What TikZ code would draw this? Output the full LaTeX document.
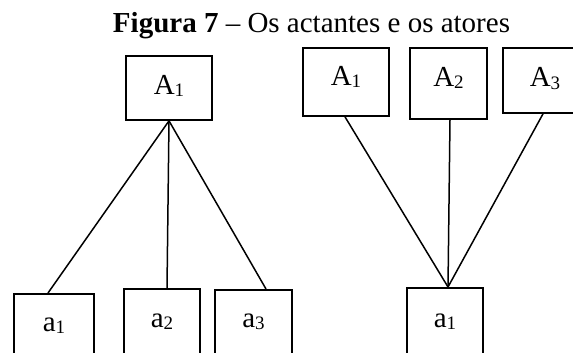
\documentclass[tikz,border=0pt]{standalone}
\usepackage{fontspec}
\setmainfont{Liberation Serif}
\newcommand\sbs[1]{\raisebox{-2pt}{\fontsize{19}{19}\selectfont #1}}
\begin{document}
\begin{tikzpicture}[x=1pt,y=-1pt,
  font=\fontsize{29}{34}\selectfont,
  box/.style={draw,line width=1.7pt,rectangle,inner sep=0pt,text height=20pt},
  link/.style={line width=1.5pt}]
\useasboundingbox (0,0) rectangle (573,353);
\clip (0,0) rectangle (573,353);
% title
\node[anchor=base,inner sep=0pt] (title) at (311.5,33) {\textbf{Figura 7} – Os actantes e os atores};
% left tree
\node[box,minimum width=86pt,minimum height=64pt,text depth=8pt] (lA1) at (169,88) {A\sbs{1}};
\node[box,anchor=north,minimum width=80pt,minimum height=80pt,text depth=24pt] (la1) at (54,293) {a\sbs{1}};
\node[box,anchor=north,minimum width=76pt,minimum height=80pt,text depth=22pt] (la2) at (162,288) {a\sbs{2}};
\node[box,anchor=north,minimum width=77pt,minimum height=80pt,text depth=24pt] (la3) at (253.5,289) {a\sbs{3}};
\draw[link] (lA1.south) -- ([xshift=-6pt]la1.north);
\draw[link] (lA1.south) -- ([xshift=5pt]la2.north);
\draw[link] (lA1.south) -- ([xshift=12.5pt]la3.north);
% right tree
\node[box,minimum width=86pt,minimum height=68pt,text depth=13pt] (rA1) at (346,82) {A\sbs{1}};
\node[box,minimum width=77pt,minimum height=71pt,text depth=15pt] (rA2) at (448.5,83.5) {A\sbs{2}};
\node[box,minimum width=84pt,minimum height=65pt,text depth=7pt] (rA3) at (545,80.5) {A\sbs{3}};
\node[box,anchor=north,minimum width=76pt,minimum height=80pt,text depth=20pt] (ra1) at (445,287) {a\sbs{1}};
\draw[link] ([xshift=-1pt]rA1.south) -- ([xshift=3pt]ra1.north);
\draw[link] ([xshift=1.5pt]rA2.south) -- ([xshift=3pt]ra1.north);
\draw[link] ([xshift=-2pt]rA3.south) -- ([xshift=3pt]ra1.north);
\end{tikzpicture}
\end{document}
